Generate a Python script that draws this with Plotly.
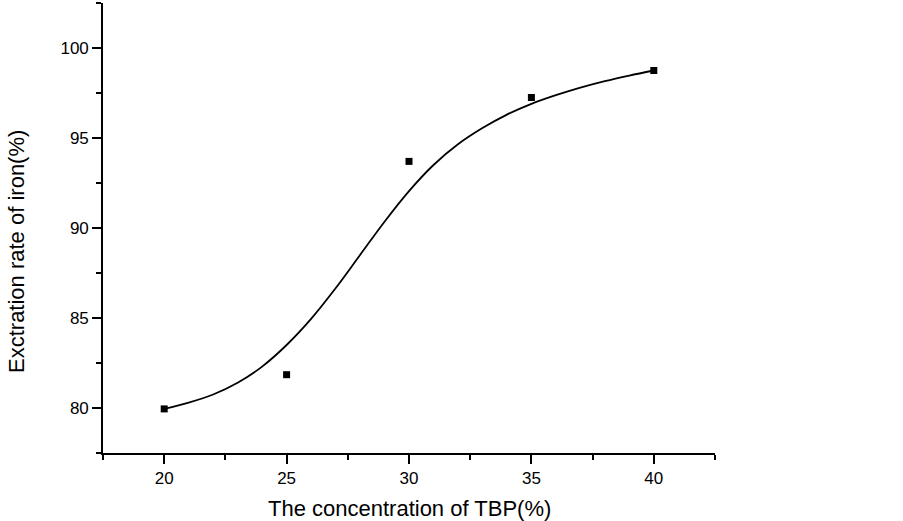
import plotly.graph_objects as go

# measured data points
tbp = [20, 25, 30, 35, 40]
extraction = [79.95, 81.85, 93.7, 97.25, 98.75]

# fitted curve at each unit of x
curve_x = [20, 21, 22, 23, 24, 25, 26, 27, 28, 29, 30,
           31, 32, 33, 34, 35, 36, 37, 38, 39, 40]
curve_y = [79.95, 80.3, 80.75, 81.4, 82.3, 83.5, 84.95, 86.65, 88.5, 90.35, 92.05,
           93.5, 94.65, 95.55, 96.3, 96.9, 97.38, 97.8, 98.16, 98.47, 98.75]

x_ticks = [20, 25, 30, 35, 40]
x_minor = [17.5, 22.5, 27.5, 32.5, 37.5, 42.5]
y_ticks = [80, 85, 90, 95, 100]
y_minor = [77.5, 82.5, 87.5, 92.5, 97.5, 102.5]

x_title = "The concentration of TBP(%)"
y_title = "Exctration rate of iron(%)"

FONT = "Liberation Sans, Arial, sans-serif"

fig = go.Figure()
fig.add_trace(go.Scatter(x=curve_x, y=curve_y, mode="lines",
                         line=dict(color="black", width=1.8, shape="spline", smoothing=1.0),
                         showlegend=False, hoverinfo="skip"))
fig.add_trace(go.Scatter(x=tbp, y=extraction, mode="markers",
                         marker=dict(symbol="square", size=7, color="black"),
                         showlegend=False))

axis_common = dict(
    showgrid=False, zeroline=False, showline=True, linecolor="black", linewidth=1.6,
    ticks="outside", ticklen=9, tickwidth=1.6, tickcolor="black",
    tickfont=dict(family=FONT, size=17, color="black"),
    mirror=False,
)

fig.update_layout(
    width=903, height=521,
    paper_bgcolor="white", plot_bgcolor="white",
    margin=dict(l=103, r=188, t=3, b=68),
    font=dict(family=FONT, color="black"),
    xaxis=dict(range=[17.5, 42.5], tickvals=x_ticks,
               minor=dict(tickvals=x_minor, ticklen=5, tickwidth=1.6,
                          tickcolor="black", ticks="outside"),
               **axis_common),
    yaxis=dict(range=[77.5, 102.5], tickvals=y_ticks,
               minor=dict(tickvals=y_minor, ticklen=5, tickwidth=1.6,
                          tickcolor="black", ticks="outside"),
               **axis_common),
    annotations=[
        dict(text=x_title, xref="paper", yref="paper", x=0.5, y=0,
             xanchor="center", yanchor="middle", yshift=-55, showarrow=False,
             font=dict(family=FONT, size=22, color="black")),
        dict(text=y_title, xref="paper", yref="paper", x=0, y=0.4467,
             xanchor="center", yanchor="middle", xshift=-86, textangle=-90,
             showarrow=False, font=dict(family=FONT, size=22, color="black")),
    ],
)

fig.write_html("out.html", config={"displayModeBar": False},
               post_script="document.body.style.margin='0px';")
